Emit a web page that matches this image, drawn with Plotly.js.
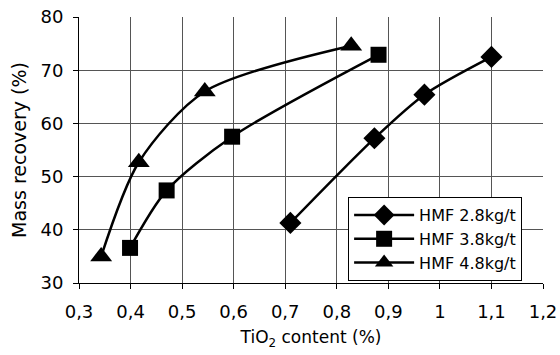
<!DOCTYPE html>
<html><head><meta charset="utf-8">
<script src="https://cdn.plot.ly/plotly-3.0.1.min.js"></script>
<style>body{margin:0;background:#fff}#c{width:560px;height:355px}</style>
</head><body><div id="c"></div>
<script>
const names = ["HMF 2.8kg/t", "HMF 3.8kg/t", "HMF 4.8kg/t"];
const x28 = [0.71, 0.873, 0.97, 1.1];
const y28 = [41.3, 57.2, 65.4, 72.5];
const x38 = [0.399, 0.47, 0.597, 0.881];
const y38 = [36.6, 47.4, 57.5, 72.9];
const x48 = [0.343, 0.416, 0.544, 0.828];
const y48 = [35.0, 52.7, 66.0, 74.6];
const xTickVals = [0.3,0.4,0.5,0.6,0.7,0.8,0.9,1.0,1.1,1.2];
const xTickText = ["0,3","0,4","0,5","0,6","0,7","0,8","0,9","1","1,1","1,2"];
const yTickVals = [30,40,50,60,70,80];

const symbols = ["diamond","square","triangle-up"];
const sizes = [17,16,19];
const xs=[x28,x38,x48], ys=[y28,y38,y48];
const data = names.map((n,i)=>({
  x: xs[i], y: ys[i], name: n, type:'scatter', mode:'lines+markers',
  legendgroup:'g'+i,
  line:{color:'#000', width:2.5, shape:'spline', smoothing:0.8},
  marker:{symbol:symbols[i], size:sizes[i], color:'#000'}
}));
const FF = 'DejaVu Sans, sans-serif';
const layout = {
  width:560, height:355,
  margin:{l:79, r:17, t:17, b:72},
  paper_bgcolor:'#fff', plot_bgcolor:'#fff',
  font: {family:FF, size:17, color:'#000'},
  showlegend:true,
  legend:{x:0.58, y:0.323, xanchor:'left', yanchor:'top', bgcolor:'#fff',
    bordercolor:'#000', borderwidth:1, font:{family:FF, size:16, color:'#000'},
    tracegroupgap:0, itemwidth:60},
  xaxis:{range:[0.3,1.2], tickvals:xTickVals, ticktext:xTickText,
    tickfont:{family:FF, size:18, color:'#000'},
    showgrid:true, gridcolor:'#555', gridwidth:1, zeroline:false,
    showline:true, linecolor:'#000', linewidth:1, ticks:'outside', ticklen:5, tickcolor:'#000',
    ticklabelstandoff:7, automargin:false,
    title:{text:'TiO<sub>2</sub> content (%)', font:{family:FF, size:17}, standoff:10}},
  yaxis:{range:[30,80], tickvals:yTickVals,
    tickfont:{family:FF, size:18, color:'#000'},
    showgrid:true, gridcolor:'#555', gridwidth:1, zeroline:false,
    showline:true, linecolor:'#000', linewidth:1, ticks:'outside', ticklen:5, tickcolor:'#000',
    ticklabelstandoff:6, automargin:false,
    title:{text:'Mass recovery (%)', font:{family:FF, size:19}, standoff:8}}
};
Plotly.newPlot('c', data, layout, {displayModeBar:false, staticPlot:true});
</script></body></html>
